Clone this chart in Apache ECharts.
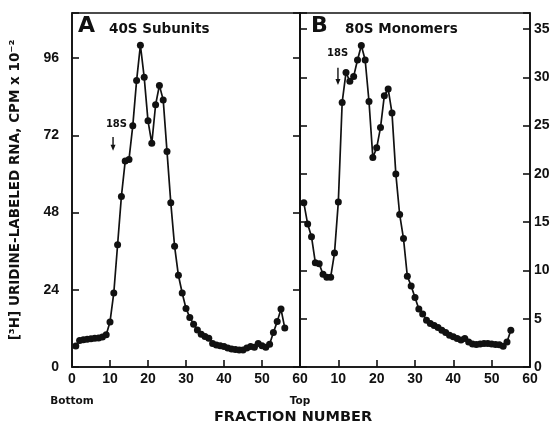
<!DOCTYPE html>
<html>
<head>
<meta charset="utf-8">
<script src="https://cdn.jsdelivr.net/npm/echarts@6/dist/echarts.min.js"></script>
<style>html,body{margin:0;padding:0;background:#fff}#c{width:554px;height:431px}</style>
</head>
<body>
<div id="c"></div>
<script>
// Panel A: 40S subunits (left scale, CPM x 10^-2)
const fractionsA = [1,2,3,4,5,6,7,8,9,10,11,12,13,14,15,16,17,18,19,20,21,22,23,24,25,26,27,28,29,30,31,32,33,34,35,36,37,38,39,40,41,42,43,44,45,46,47,48,49,50,51,52,53,54,55,56];
const valuesA = [6.5,8.2,8.5,8.6,8.8,8.9,9.0,9.3,10.0,14.0,23.0,38.0,53.0,64.0,64.5,75.0,89.0,100.0,90.0,76.5,69.5,81.5,87.5,83.0,67.0,51.0,37.5,28.5,23.0,18.2,15.4,13.3,11.5,10.2,9.5,8.9,7.3,6.8,6.6,6.4,5.9,5.6,5.4,5.3,5.3,5.9,6.4,6.1,7.3,6.6,6.1,7.1,10.7,14.1,18.0,12.1];
// Panel B: 80S monomers (right scale)
const fractionsB = [1,2,3,4,5,6,7,8,9,10,11,12,13,14,15,16,17,18,19,20,21,22,23,24,25,26,27,28,29,30,31,32,33,34,35,36,37,38,39,40,41,42,43,44,45,46,47,48,49,50,51,52,53,54,55];
const valuesB = [17.0,14.8,13.5,10.8,10.7,9.6,9.3,9.3,11.8,17.1,27.4,30.5,29.6,30.1,31.8,33.3,31.8,27.5,21.7,22.7,24.8,28.1,28.8,26.3,20.0,15.8,13.3,9.4,8.4,7.2,6.0,5.5,4.85,4.5,4.3,4.1,3.8,3.57,3.3,3.13,2.95,2.8,2.95,2.6,2.37,2.34,2.37,2.44,2.44,2.37,2.34,2.3,2.16,2.6,3.8];
// Axis ticks
const xTicks = [0,10,20,30,40,50,60];
const leftTicks = [0,24,48,72,96];
const rightTicks = [0,5,10,15,20,25,30,35];
const leftMax = 110;
const rightMax = 110/3;

const INK = '#111';
const tickFont = {fontFamily:'Liberation Sans', fontWeight:'bold', fontSize:14, color:INK};

function yAxisCfg(grid, pos, max, interval, ticks, showLabels, extra){
  return Object.assign({
    type:'value', gridIndex:grid, position:pos, min:0, max:max, interval:interval,
    axisLine:{show:true, lineStyle:{color:INK, width:1.6}},
    axisTick:{show:true, inside:true, length:7, lineStyle:{color:INK, width:1.6}},
    splitLine:{show:false},
    axisLabel:Object.assign({show:showLabels, margin:pos==='left'?13:4,
      formatter:v=>ticks.includes(Math.round(v*1000)/1000)?String(v):''}, tickFont)
  }, extra||{});
}
function xAxisCfg(grid, hideZero){
  return {
    type:'value', gridIndex:grid, min:0, max:60, interval:10,
    axisLine:{show:true, lineStyle:{color:INK, width:1.6}},
    axisTick:{show:true, inside:true, length:7, lineStyle:{color:INK, width:1.6}},
    splitLine:{show:false},
    axisLabel:Object.assign({margin:5,
      formatter:v=>(hideZero && v===0)?'':(xTicks.includes(v)?String(v):'')}, tickFont)
  };
}

const chart = echarts.init(document.getElementById('c'), null, {renderer:'canvas'});
const gridTop = 13, gridBottom = 64;
chart.setOption({
  animation:false,
  backgroundColor:'#fff',
  grid:[
    {left:72, width:228, top:gridTop, bottom:gridBottom, show:true, borderColor:INK, borderWidth:1.6},
    {left:300, width:230, top:gridTop, bottom:gridBottom, show:true, borderColor:INK, borderWidth:1.6}
  ],
  xAxis:[xAxisCfg(0,false), xAxisCfg(1,true)],
  yAxis:[
    yAxisCfg(0,'left',leftMax,24,leftTicks,true,{
      name:'[³H] URIDINE-LABELED RNA, CPM x 10⁻²', nameLocation:'middle', nameRotate:90, nameGap:50,
      nameTextStyle:{fontFamily:'DejaVu Sans', fontWeight:'bold', fontSize:13.5, color:INK}
    }),
    yAxisCfg(0,'right',leftMax,24,leftTicks,false),
    yAxisCfg(1,'left',rightMax,5,rightTicks,false),
    yAxisCfg(1,'right',rightMax,5,rightTicks,true)
  ],
  series:[
    {type:'line', xAxisIndex:0, yAxisIndex:0, data:fractionsA.map((f,i)=>[f,valuesA[i]]),
     symbol:'circle', symbolSize:7, itemStyle:{color:INK}, lineStyle:{color:INK,width:1.7}},
    {type:'line', xAxisIndex:1, yAxisIndex:3, data:fractionsB.map((f,i)=>[f,valuesB[i]]),
     symbol:'circle', symbolSize:7, itemStyle:{color:INK}, lineStyle:{color:INK,width:1.7}}
  ]
});

// Annotations positioned from data coordinates
const pA = (x,y)=>chart.convertToPixel({xAxisIndex:0,yAxisIndex:0},[x,y]);
const pB = (x,y)=>chart.convertToPixel({xAxisIndex:1,yAxisIndex:3},[x,y]);
function arrow(top, bottom){
  return [
    {type:'line', shape:{x1:top[0],y1:top[1],x2:bottom[0],y2:bottom[1]-3}, style:{stroke:INK,lineWidth:1.4}},
    {type:'polygon', shape:{points:[[bottom[0]-2.5,bottom[1]-6],[bottom[0]+2.5,bottom[1]-6],[bottom[0],bottom[1]]]}, style:{fill:INK}}
  ];
}
const annFont = 'bold 13.5px "DejaVu Sans"';
const a18top = pA(10.8,71.5), a18bot = pA(10.8,67.2), a18txt = pA(11.7,75.5);
const b18top = pB(9.9,31.0), b18bot = pB(9.9,29.2), b18txt = pB(9.8,32.5);
const xA0 = pA(0,0), xA60 = pA(60,0);
chart.setOption({graphic:[
  {type:'text', left:78, top:15, style:{text:'A', font:'bold 22px "DejaVu Sans"', fill:INK}},
  {type:'text', left:109, top:22, style:{text:'40S Subunits', font:annFont, fill:INK}},
  {type:'text', left:311, top:15, style:{text:'B', font:'bold 22px "DejaVu Sans"', fill:INK}},
  {type:'text', left:345, top:22, style:{text:'80S Monomers', font:annFont, fill:INK}},
  {type:'text', x:a18txt[0], y:a18txt[1], style:{text:'18S', font:'bold 10px "DejaVu Sans"', fill:INK, align:'center', verticalAlign:'middle'}},
  ...arrow(a18top, a18bot),
  {type:'text', x:b18txt[0], y:b18txt[1], style:{text:'18S', font:'bold 10px "DejaVu Sans"', fill:INK, align:'center', verticalAlign:'middle'}},
  ...arrow(b18top, b18bot),
  {type:'text', x:xA0[0], y:401, style:{text:'Bottom', font:'bold 10.5px "DejaVu Sans"', fill:INK, align:'center', verticalAlign:'middle'}},
  {type:'text', x:xA60[0], y:401, style:{text:'Top', font:'bold 10.5px "DejaVu Sans"', fill:INK, align:'center', verticalAlign:'middle'}},
  {type:'text', x:293, y:417, style:{text:'FRACTION NUMBER', font:'bold 14.5px "DejaVu Sans"', fill:INK, align:'center', verticalAlign:'middle'}}
]});
</script>
</body>
</html>
